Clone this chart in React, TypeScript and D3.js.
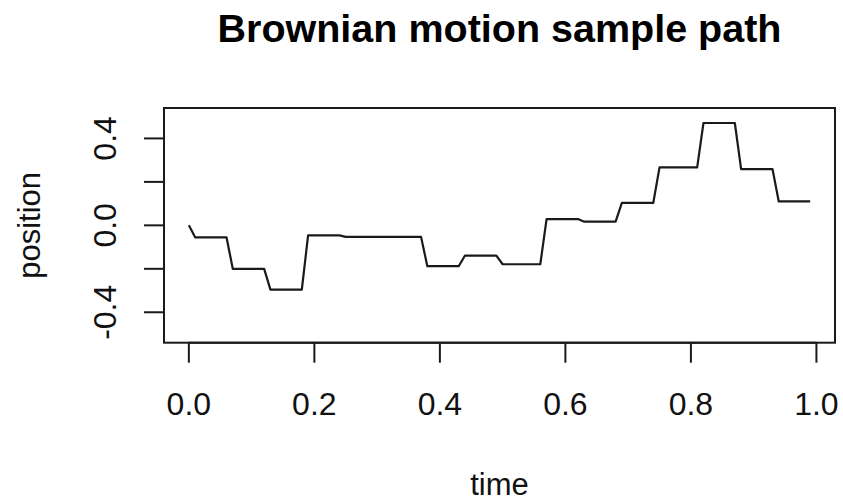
import React, { useEffect, useRef } from 'react';
import * as d3 from 'd3';

// vertices of the sample path
const times = [
  0, 0.01, 0.06, 0.07, 0.12, 0.13, 0.18, 0.19, 0.24, 0.25, 0.37, 0.38, 0.43, 0.44, 0.49, 0.5,
  0.56, 0.57, 0.62, 0.63, 0.68, 0.69, 0.74, 0.75, 0.81, 0.82, 0.87, 0.88, 0.93, 0.94, 0.99,
];
const positions = [
  0, -0.055, -0.055, -0.2, -0.2, -0.296, -0.296, -0.046, -0.046, -0.053, -0.053, -0.188, -0.188,
  -0.139, -0.139, -0.179, -0.179, 0.029, 0.029, 0.017, 0.017, 0.103, 0.103, 0.267, 0.267, 0.471,
  0.471, 0.259, 0.259, 0.11, 0.11,
];
const xTicks = [0, 0.2, 0.4, 0.6, 0.8, 1.0];
const yTicks = [-0.4, -0.2, 0, 0.2, 0.4];
const yLabelTicks = [-0.4, 0, 0.4];

const W = 843;
const H = 502;
const FONT = '"Liberation Sans", Arial, Helvetica, sans-serif';

const App = () => {
  const svgRef = useRef<SVGSVGElement | null>(null);

  useEffect(() => {
    const box = { left: 164, right: 835, top: 108, bottom: 342.7 };
    const svg = d3.select(svgRef.current).html('');

    // R-style 4% extension of the ranges
    const x = d3.scaleLinear().domain([-0.0396, 1.0296]).range([box.left, box.right]);
    const y = d3.scaleLinear().domain([-0.54, 0.54]).range([box.bottom, box.top]);

    const data = times.map((t, i) => ({ t, v: positions[i] }));
    const fmt = (d: number) => d.toFixed(1); // plain hyphen like R

    // path
    const line = d3.line<{ t: number; v: number }>().x(d => x(d.t)).y(d => y(d.v));
    svg.append('path')
      .datum(data)
      .attr('d', line)
      .attr('fill', 'none')
      .attr('stroke', '#1a1a1a')
      .attr('stroke-width', 2.2)
      .attr('stroke-linejoin', 'round');

    // box
    svg.append('rect')
      .attr('x', box.left)
      .attr('y', box.top)
      .attr('width', box.right - box.left)
      .attr('height', box.bottom - box.top)
      .attr('fill', 'none')
      .attr('stroke', '#1a1a1a')
      .attr('stroke-width', 2);

    const tickLen = 20;

    // x axis
    const gx = svg.append('g').attr('stroke', '#1a1a1a').attr('stroke-width', 2);
    gx.append('line')
      .attr('x1', x(xTicks[0])).attr('x2', x(xTicks[xTicks.length - 1]))
      .attr('y1', box.bottom).attr('y2', box.bottom);
    gx.selectAll('line.tick')
      .data(xTicks)
      .join('line')
      .attr('class', 'tick')
      .attr('x1', d => x(d)).attr('x2', d => x(d))
      .attr('y1', box.bottom).attr('y2', box.bottom + tickLen);
    svg.append('g')
      .selectAll('text')
      .data(xTicks)
      .join('text')
      .attr('x', d => x(d))
      .attr('y', 415)
      .attr('text-anchor', 'middle')
      .style('font-family', FONT)
      .style('font-size', '32px')
      .style('fill', '#111')
      .text(fmt);

    // y axis
    const gy = svg.append('g').attr('stroke', '#1a1a1a').attr('stroke-width', 2);
    gy.append('line')
      .attr('x1', box.left).attr('x2', box.left)
      .attr('y1', y(yTicks[0])).attr('y2', y(yTicks[yTicks.length - 1]));
    gy.selectAll('line.tick')
      .data(yTicks)
      .join('line')
      .attr('class', 'tick')
      .attr('x1', box.left - tickLen).attr('x2', box.left)
      .attr('y1', d => y(d)).attr('y2', d => y(d));
    svg.append('g')
      .selectAll('text')
      .data(yLabelTicks)
      .join('text')
      .attr('transform', d => `translate(116,${y(d)}) rotate(-90)`)
      .attr('text-anchor', 'middle')
      .style('font-family', FONT)
      .style('font-size', '32px')
      .style('fill', '#111')
      .text(fmt);

    // titles
    svg.append('text')
      .attr('x', (box.left + box.right) / 2)
      .attr('y', 42)
      .attr('text-anchor', 'middle')
      .style('font-family', FONT)
      .style('font-size', '39.5px')
      .style('font-weight', 'bold')
      .style('fill', '#000')
      .text('Brownian motion sample path');

    svg.append('text')
      .attr('x', (box.left + box.right) / 2)
      .attr('y', 495)
      .attr('text-anchor', 'middle')
      .style('font-family', FONT)
      .style('font-size', '31px')
      .style('fill', '#111')
      .text('time');

    svg.append('text')
      .attr('transform', `translate(40,${(box.top + box.bottom) / 2}) rotate(-90)`)
      .attr('text-anchor', 'middle')
      .style('font-family', FONT)
      .style('font-size', '31px')
      .style('fill', '#111')
      .text('position');
  }, []);

  return (
    <svg
      ref={svgRef}
      width={W}
      height={H}
      style={{ position: 'absolute', left: 0, top: 0, background: '#fff' }}
    />
  );
};

export default App;
